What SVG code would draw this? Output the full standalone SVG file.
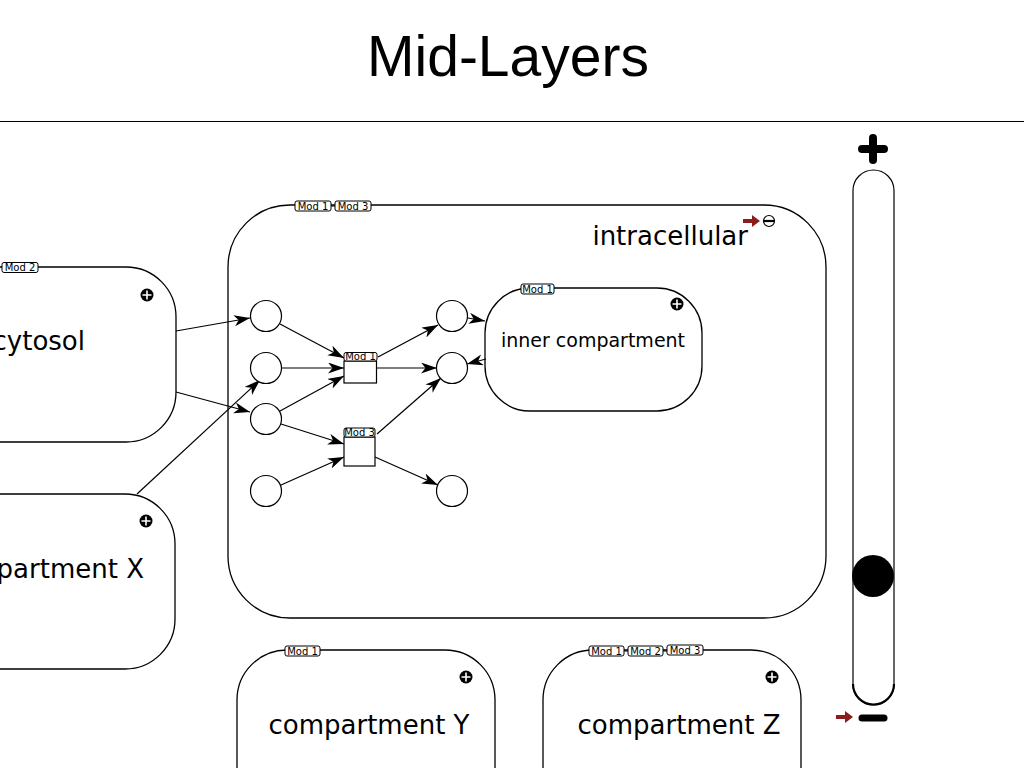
<svg xmlns="http://www.w3.org/2000/svg" width="1024" height="768" viewBox="0 0 1024 768">
<defs>
<style>
.comp{fill:#fff;stroke:#000;stroke-width:1.3}
.lbl{font-family:"DejaVu Sans",sans-serif;fill:#000}
.tag rect{fill:#fff;stroke:#000;stroke-width:1}
.tag text{font-family:"DejaVu Sans",sans-serif;font-size:10px;fill:#000;text-anchor:middle}
.sp{fill:#fff;stroke:#000;stroke-width:1.2}
.rx{fill:#fff;stroke:#000;stroke-width:1.2}
.edge{fill:none;stroke:#000;stroke-width:1.2;marker-end:url(#ah)}
</style>
<marker id="ah" markerUnits="userSpaceOnUse" markerWidth="17" markerHeight="12" refX="16" refY="5.5" orient="auto">
<path d="M0,0 L16,5.5 L0,11 L4.5,5.5 z" fill="#000"/>
</marker>
<g id="plusIcon"><circle r="6.5" fill="#000"/><path d="M-4.5,0 H4.5 M0,-4.5 V4.5" stroke="#fff" stroke-width="1.6"/></g>
<path id="redArrow" d="M-9,-2 H0 V-6 L8,0 L0,6 V2 H-9 z" fill="#8b1c1c"/>
</defs>
<rect width="1024" height="768" fill="#fff"/>
<text x="508" y="76" font-family="Liberation Sans, Arial, sans-serif" font-size="57" text-anchor="middle" fill="#000">Mid-Layers</text>
<line x1="0" y1="121.5" x2="1024" y2="121.5" stroke="#000" stroke-width="1"/>

<g id="cytosol">
<rect class="comp" x="-100" y="267" width="276" height="175" rx="50"/>
<text class="lbl" x="85" y="350" font-size="26" text-anchor="end">cytosol</text>
<use href="#plusIcon" x="147" y="295"/>
<g class="tag"><rect x="2" y="262.5" width="36" height="10" rx="2"/><text x="20" y="271">Mod 2</text></g>
</g>

<g id="compartmentX">
<rect class="comp" x="-100" y="494" width="275" height="175" rx="50"/>
<text class="lbl" x="144" y="578" font-size="26" text-anchor="end">partment X</text>
<use href="#plusIcon" x="146" y="521"/>
</g>

<g id="intracellular">
<rect class="comp" x="228" y="205" width="598" height="413" rx="62"/>
<text class="lbl" x="748" y="245" font-size="26" text-anchor="end">intracellular</text>
<use href="#redArrow" x="752" y="221"/>
<circle cx="769" cy="221" r="5.5" fill="#fff" stroke="#000" stroke-width="1.2"/>
<line x1="764" y1="221" x2="774" y2="221" stroke="#000" stroke-width="2.2"/>
<g class="tag"><rect x="295" y="201" width="36" height="10" rx="2"/><text x="313" y="209.5">Mod 1</text></g>
<g class="tag"><rect x="335" y="201" width="36" height="10" rx="2"/><text x="353" y="209.5">Mod 3</text></g>
<line x1="331" y1="206" x2="335" y2="206" stroke="#000" stroke-width="1"/>
</g>

<g id="innerCompartment">
<rect class="comp" x="485" y="288" width="217" height="123" rx="45"/>
<text class="lbl" x="593" y="347" font-size="19" text-anchor="middle">inner compartment</text>
<use href="#plusIcon" x="677" y="304"/>
<g class="tag"><rect x="521" y="284" width="33" height="10" rx="2"/><text x="537.5" y="292.5">Mod 1</text></g>
</g>

<g id="compartmentY">
<rect class="comp" x="237" y="650" width="258" height="180" rx="50"/>
<text class="lbl" x="369" y="734" font-size="26" text-anchor="middle">compartment Y</text>
<use href="#plusIcon" x="466" y="677"/>
<g class="tag"><rect x="285" y="646" width="35" height="10" rx="2"/><text x="302.5" y="654.5">Mod 1</text></g>
</g>

<g id="compartmentZ">
<rect class="comp" x="543" y="650" width="258" height="180" rx="50"/>
<text class="lbl" x="679" y="734" font-size="26" text-anchor="middle">compartment Z</text>
<use href="#plusIcon" x="772" y="677"/>
<g class="tag"><rect x="589" y="646" width="35" height="10" rx="2"/><text x="606.5" y="654.5">Mod 1</text></g>
<g class="tag"><rect x="628" y="646" width="35" height="10" rx="2"/><text x="645.5" y="654.5">Mod 2</text></g>
<g class="tag"><rect x="667" y="645" width="36" height="10" rx="2"/><text x="685" y="653.5">Mod 3</text></g>
<line x1="624" y1="651" x2="628" y2="651" stroke="#000" stroke-width="1"/>
<line x1="663" y1="651" x2="667" y2="651" stroke="#000" stroke-width="1"/>
</g>

<g id="connectors">
<line class="edge" x1="176" y1="331" x2="250" y2="318"/>
<line class="edge" x1="176" y1="392" x2="250" y2="412"/>
<line class="edge" x1="137" y1="494" x2="260" y2="380"/>
<line class="edge" x1="280" y1="324" x2="344" y2="358"/>
<line class="edge" x1="282" y1="368" x2="344" y2="368"/>
<line class="edge" x1="280" y1="411" x2="344" y2="376"/>
<line class="edge" x1="281" y1="424" x2="344" y2="444"/>
<line class="edge" x1="281" y1="485" x2="344" y2="457"/>
<line class="edge" x1="378" y1="357" x2="438" y2="325"/>
<line class="edge" x1="377" y1="368" x2="437" y2="368"/>
<line class="edge" x1="377" y1="434" x2="441" y2="378"/>
<line class="edge" x1="375" y1="457" x2="438" y2="485"/>
<line class="edge" x1="468" y1="318" x2="485" y2="321"/>
<line class="edge" x1="486" y1="359" x2="467" y2="364"/>
</g>

<g id="species">
<circle class="sp" cx="266" cy="316" r="15.5"/>
<circle class="sp" cx="266" cy="368" r="15.5"/>
<circle class="sp" cx="266" cy="419" r="15.5"/>
<circle class="sp" cx="266" cy="491" r="15.5"/>
<circle class="sp" cx="452" cy="316" r="15.5"/>
<circle class="sp" cx="452" cy="368" r="15.5"/>
<circle class="sp" cx="452" cy="491" r="15.5"/>
</g>

<g id="reaction1">
<rect class="rx" x="344" y="361" width="32.5" height="22"/>
<g class="tag"><rect x="344" y="352.5" width="33" height="8.5" rx="2"/><text x="360.5" y="360">Mod 1</text></g>
</g>
<g id="reaction2">
<rect class="rx" x="344" y="437" width="31" height="29"/>
<g class="tag"><rect x="344" y="428" width="31" height="9" rx="2"/><text x="359.5" y="436">Mod 3</text></g>
</g>

<g id="zoomSlider">
<rect x="853" y="170" width="41" height="535" rx="20.5" fill="#fff" stroke="#000" stroke-width="1.2"/>
<path d="M853,684 A20.5,20.5 0 0 0 894,684" fill="none" stroke="#000" stroke-width="2.2"/>
<circle cx="873" cy="576" r="21" fill="#000"/>
<path d="M873,138 V160 M862,149 H884" stroke="#000" stroke-width="8" stroke-linecap="round"/>
<path d="M862,718 H884" stroke="#000" stroke-width="7" stroke-linecap="round"/>
<use href="#redArrow" x="845" y="717"/>
</g>
</svg>
